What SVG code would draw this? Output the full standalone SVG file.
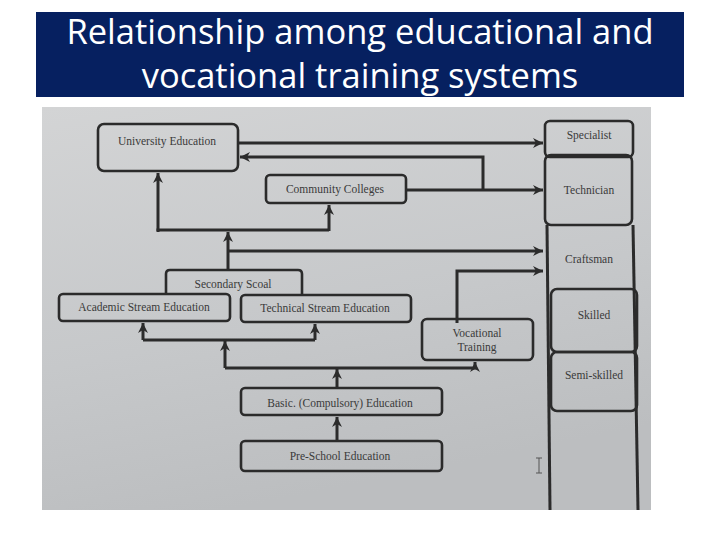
<svg xmlns="http://www.w3.org/2000/svg" width="720" height="540" viewBox="0 0 720 540">
<defs>
<linearGradient id="photo" x1="0" y1="0" x2="0.3" y2="1">
<stop offset="0" stop-color="#d3d4d5"/>
<stop offset="0.6" stop-color="#c6c8ca"/>
<stop offset="1" stop-color="#bcbec0"/>
</linearGradient>
<marker id="ah" viewBox="0 0 12 12" refX="11" refY="6" markerWidth="12" markerHeight="12" markerUnits="userSpaceOnUse" orient="auto">
<path d="M1,1 L11,6 L1,11 L4,6 Z" fill="#2b2b2b"/>
</marker>
</defs>
<style>
.box{fill:none;stroke:#2b2b2b;stroke-width:2.6}
.ln{fill:none;stroke:#2b2b2b;stroke-width:3}
.t{font-family:"Liberation Serif",serif;font-size:11.5px;fill:#3a3a3a;text-anchor:middle}
.title{font-family:"Open Sans","Liberation Sans",sans-serif;font-size:34.5px;fill:#ffffff;text-anchor:middle}
</style>
<rect x="0" y="0" width="720" height="540" fill="#ffffff"/>
<g id="title">
<rect x="36" y="12" width="648" height="85" fill="#062060"/>
<text class="title" x="360" y="44">Relationship among educational and</text>
<text class="title" x="360" y="88">vocational training systems</text>
</g>
<rect id="photo-bg" x="42" y="107" width="609" height="403" fill="url(#photo)"/>
<g id="connectors">
<line class="ln" x1="238" y1="143" x2="543" y2="143" marker-end="url(#ah)"/>
<polyline class="ln" points="483,190 483,157 240,157" marker-end="url(#ah)"/>
<line class="ln" x1="406" y1="190" x2="543" y2="190" marker-end="url(#ah)"/>
<line class="ln" x1="228" y1="270" x2="228" y2="232" marker-end="url(#ah)"/>
<polyline class="ln" points="158,232 158,230 329,230"/>
<line class="ln" x1="158" y1="231" x2="158" y2="173" marker-end="url(#ah)"/>
<line class="ln" x1="329" y1="231" x2="329" y2="205" marker-end="url(#ah)"/>
<line class="ln" x1="228" y1="251" x2="543" y2="251" marker-end="url(#ah)"/>
<polyline class="ln" points="457,323 457,271 543,271" marker-end="url(#ah)"/>
<polyline class="ln" points="143,340 315,340"/>
<line class="ln" x1="143" y1="340" x2="143" y2="323" marker-end="url(#ah)"/>
<line class="ln" x1="315" y1="340" x2="315" y2="324" marker-end="url(#ah)"/>
<line class="ln" x1="225" y1="368" x2="225" y2="341" marker-end="url(#ah)"/>
<polyline class="ln" points="225,368 475,368 475,362" marker-end="url(#ah)"/>
<line class="ln" x1="337" y1="388" x2="337" y2="369" marker-end="url(#ah)"/>
<line class="ln" x1="337" y1="441" x2="337" y2="417" marker-end="url(#ah)"/>
</g>
<g id="university">
<rect class="box" x="98" y="124" width="140" height="47" rx="6"/>
<text class="t" x="167" y="145">University Education</text>
</g>
<g id="community">
<rect class="box" x="266" y="175" width="140" height="28" rx="4"/>
<text class="t" x="335" y="193">Community Colleges</text>
</g>
<g id="secondary">
<path class="box" d="M166,294 L166,274 Q166,270 170,270 L298,270 Q302,270 302,274 L302,294"/>
<text class="t" x="233" y="288">Secondary Scoal</text>
</g>
<g id="academic">
<rect class="box" x="59" y="294" width="171" height="27" rx="4"/>
<text class="t" x="144" y="311">Academic Stream Education</text>
</g>
<g id="technical">
<rect class="box" x="241" y="295" width="170" height="27" rx="4"/>
<text class="t" x="325" y="312">Technical Stream Education</text>
</g>
<g id="vocational">
<rect class="box" x="422" y="319" width="111" height="41" rx="5"/>
<text class="t" x="477" y="337">Vocational</text>
<text class="t" x="477" y="351">Training</text>
</g>
<g id="basic">
<rect class="box" x="241" y="388" width="201" height="27" rx="4"/>
<text class="t" x="340" y="407">Basic. (Compulsory) Education</text>
</g>
<g id="preschool">
<rect class="box" x="241" y="441" width="201" height="30" rx="4"/>
<text class="t" x="340" y="460">Pre-School Education</text>
</g>
<g id="column">
<line class="ln" x1="547" y1="225" x2="550" y2="510"/>
<line class="ln" x1="633" y1="225" x2="638" y2="510"/>
</g>
<g id="specialist">
<rect class="box" x="545" y="121" width="88" height="36" rx="5"/>
<text class="t" x="589" y="139">Specialist</text>
</g>
<g id="technician">
<rect class="box" x="545" y="155" width="87" height="70" rx="6"/>
<text class="t" x="589" y="194">Technician</text>
</g>
<g id="craftsman">
<text class="t" x="589" y="263">Craftsman</text>
</g>
<g id="skilled">
<rect class="box" x="551" y="289" width="86" height="63" rx="6"/>
<text class="t" x="594" y="319">Skilled</text>
</g>
<g id="semiskilled">
<rect class="box" x="551" y="352" width="86" height="59" rx="6"/>
<text class="t" x="594" y="379">Semi-skilled</text>
</g>
<g id="cursor" stroke="#555" stroke-width="1" fill="none">
<line x1="539" y1="458" x2="539" y2="473"/>
<line x1="536" y1="458" x2="542" y2="458"/>
<line x1="536" y1="473" x2="542" y2="473"/>
</g>
</svg>
